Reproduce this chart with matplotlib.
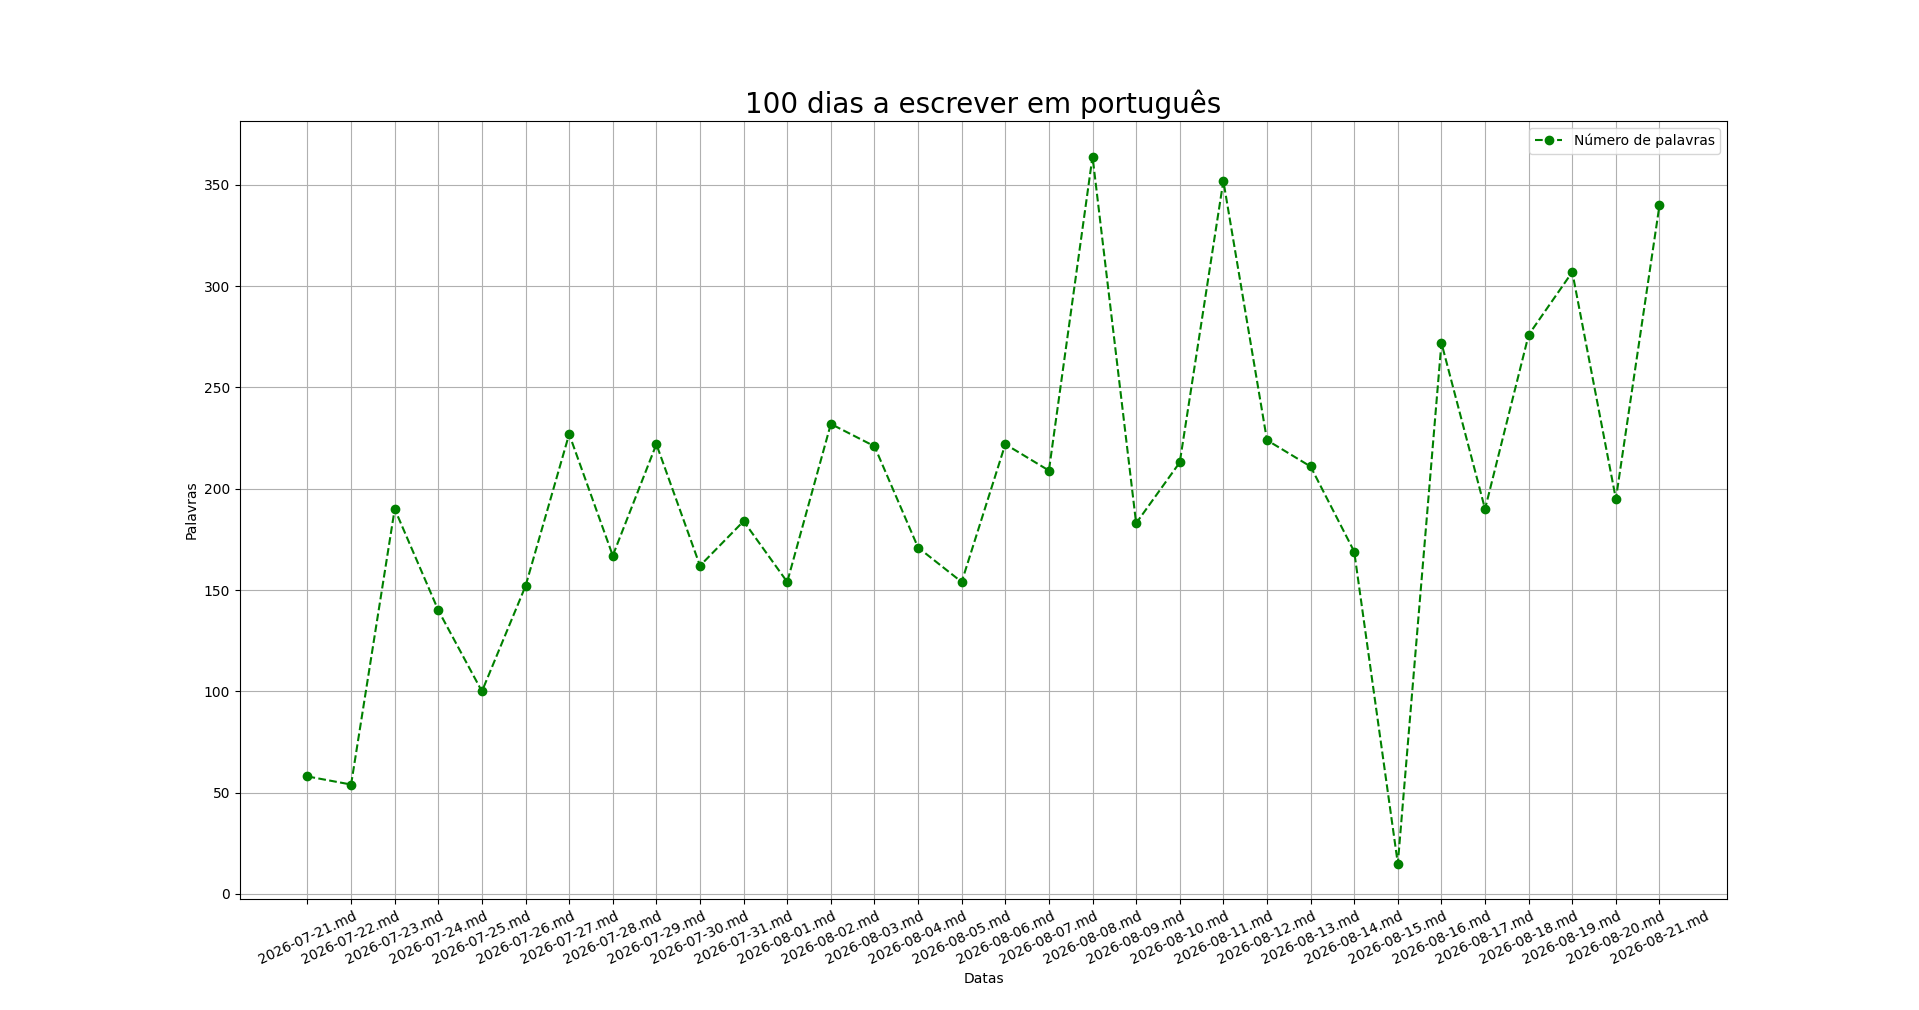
import matplotlib
matplotlib.use("Agg")
import matplotlib.pyplot as plt

# ficheiros (um por dia) e contagem de palavras
dias = ["2026-07-21.md", "2026-07-22.md", "2026-07-23.md", "2026-07-24.md",
        "2026-07-25.md", "2026-07-26.md", "2026-07-27.md", "2026-07-28.md",
        "2026-07-29.md", "2026-07-30.md", "2026-07-31.md", "2026-08-01.md",
        "2026-08-02.md", "2026-08-03.md", "2026-08-04.md", "2026-08-05.md",
        "2026-08-06.md", "2026-08-07.md", "2026-08-08.md", "2026-08-09.md",
        "2026-08-10.md", "2026-08-11.md", "2026-08-12.md", "2026-08-13.md",
        "2026-08-14.md", "2026-08-15.md", "2026-08-16.md", "2026-08-17.md",
        "2026-08-18.md", "2026-08-19.md", "2026-08-20.md", "2026-08-21.md"]
palavras = [58, 54, 190, 140, 100, 152, 227, 167,
            222, 162, 184, 154, 232, 221, 171, 154,
            222, 209, 364, 183, 213, 352, 224, 211,
            169, 15, 272, 190, 276, 307, 195, 340]

plt.figure(figsize=(19.19, 10.10), dpi=100)
plt.plot(dias, palavras, "o--", color="green", label="Número de palavras")
plt.title("100 dias a escrever em português", fontsize=20)
plt.xlabel("Datas")
plt.ylabel("Palavras")
plt.xticks(rotation=25)
plt.grid(True)
plt.legend()
plt.savefig("out.png", dpi=100)
